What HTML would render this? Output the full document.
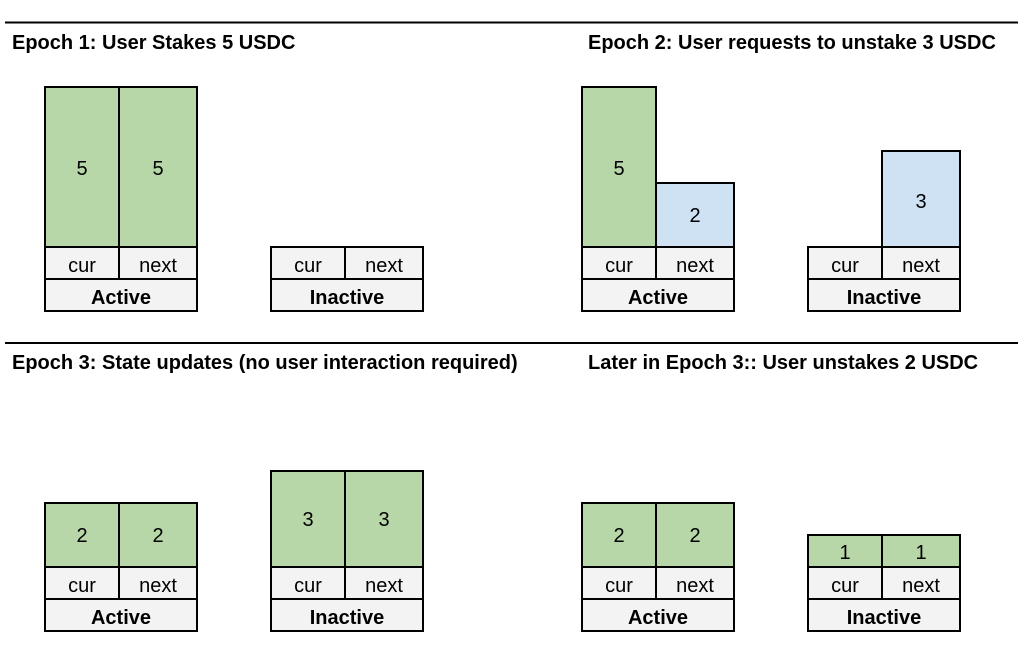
<!DOCTYPE html>
<html><head><meta charset="utf-8"><style>
html,body{margin:0;padding:0;background:#fff;}
svg{display:block;font-family:"Liberation Sans",Arial,sans-serif;}
.t{font-weight:bold;font-size:20px;fill:#000;}
.c{font-size:20px;fill:#000;text-anchor:middle;}
.b{font-size:20px;font-weight:bold;fill:#000;text-anchor:middle;}
rect{stroke:#000;stroke-width:2;}
.g{fill:#b7d7a8;} .l{fill:#cfe2f3;} .w{fill:#f3f3f3;}
</style></head><body>
<svg width="1018" height="652" viewBox="0 0 1018 652">
<line x1="5" y1="22.5" x2="1018" y2="22.5" stroke="#000" stroke-width="2"/>
<line x1="5" y1="343" x2="1018" y2="343" stroke="#000" stroke-width="2"/>
<text class="t" x="12" y="49">Epoch 1: User Stakes 5 USDC</text>
<text class="t" x="588" y="49">Epoch 2: User requests to unstake 3 USDC</text>
<text class="t" x="12" y="369">Epoch 3: State updates (no user interaction required)</text>
<text class="t" x="588" y="369">Later in Epoch 3:: User unstakes 2 USDC</text>

<rect class="g" x="45" y="87" width="74" height="160"/><rect class="g" x="119" y="87" width="78" height="160"/>
<text class="c" x="82" y="175">5</text><text class="c" x="158" y="175">5</text>
<rect class="w" x="45" y="247" width="74" height="32"/><rect class="w" x="119" y="247" width="78" height="32"/>
<text class="c" x="82" y="272">cur</text><text class="c" x="158" y="272">next</text>
<rect class="w" x="45" y="279" width="152" height="32"/><text class="b" x="121" y="304">Active</text>

<rect class="w" x="271" y="247" width="74" height="32"/><rect class="w" x="345" y="247" width="78" height="32"/>
<text class="c" x="308" y="272">cur</text><text class="c" x="384" y="272">next</text>
<rect class="w" x="271" y="279" width="152" height="32"/><text class="b" x="347" y="304">Inactive</text>

<rect class="g" x="582" y="87" width="74" height="160"/><rect class="l" x="656" y="183" width="78" height="64"/>
<text class="c" x="619" y="175">5</text><text class="c" x="695" y="222">2</text>
<rect class="w" x="582" y="247" width="74" height="32"/><rect class="w" x="656" y="247" width="78" height="32"/>
<text class="c" x="619" y="272">cur</text><text class="c" x="695" y="272">next</text>
<rect class="w" x="582" y="279" width="152" height="32"/><text class="b" x="658" y="304">Active</text>

<rect class="l" x="882" y="151" width="78" height="96"/><text class="c" x="921" y="208">3</text>
<rect class="w" x="808" y="247" width="74" height="32"/><rect class="w" x="882" y="247" width="78" height="32"/>
<text class="c" x="845" y="272">cur</text><text class="c" x="921" y="272">next</text>
<rect class="w" x="808" y="279" width="152" height="32"/><text class="b" x="884" y="304">Inactive</text>

<rect class="g" x="45" y="503" width="74" height="64"/><rect class="g" x="119" y="503" width="78" height="64"/>
<text class="c" x="82" y="542">2</text><text class="c" x="158" y="542">2</text>
<rect class="w" x="45" y="567" width="74" height="32"/><rect class="w" x="119" y="567" width="78" height="32"/>
<text class="c" x="82" y="592">cur</text><text class="c" x="158" y="592">next</text>
<rect class="w" x="45" y="599" width="152" height="32"/><text class="b" x="121" y="624">Active</text>

<rect class="g" x="271" y="471" width="74" height="96"/><rect class="g" x="345" y="471" width="78" height="96"/>
<text class="c" x="308" y="526">3</text><text class="c" x="384" y="526">3</text>
<rect class="w" x="271" y="567" width="74" height="32"/><rect class="w" x="345" y="567" width="78" height="32"/>
<text class="c" x="308" y="592">cur</text><text class="c" x="384" y="592">next</text>
<rect class="w" x="271" y="599" width="152" height="32"/><text class="b" x="347" y="624">Inactive</text>

<rect class="g" x="582" y="503" width="74" height="64"/><rect class="g" x="656" y="503" width="78" height="64"/>
<text class="c" x="619" y="542">2</text><text class="c" x="695" y="542">2</text>
<rect class="w" x="582" y="567" width="74" height="32"/><rect class="w" x="656" y="567" width="78" height="32"/>
<text class="c" x="619" y="592">cur</text><text class="c" x="695" y="592">next</text>
<rect class="w" x="582" y="599" width="152" height="32"/><text class="b" x="658" y="624">Active</text>

<rect class="g" x="808" y="535" width="74" height="32"/><rect class="g" x="882" y="535" width="78" height="32"/>
<text class="c" x="845" y="559">1</text><text class="c" x="921" y="559">1</text>
<rect class="w" x="808" y="567" width="74" height="32"/><rect class="w" x="882" y="567" width="78" height="32"/>
<text class="c" x="845" y="592">cur</text><text class="c" x="921" y="592">next</text>
<rect class="w" x="808" y="599" width="152" height="32"/><text class="b" x="884" y="624">Inactive</text>
</svg>
</body></html>
